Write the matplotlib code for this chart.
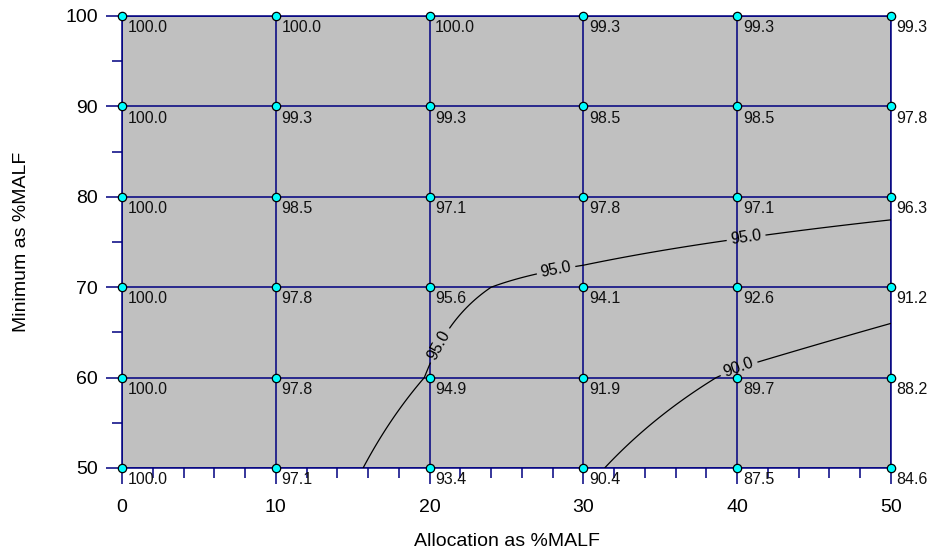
import numpy as np
import matplotlib
matplotlib.use("Agg")
import matplotlib.pyplot as plt
from matplotlib.ticker import MultipleLocator

plt.rcParams["font.family"] = ["Liberation Sans", "DejaVu Sans"]

# Grid of allocation (x) and minimum (y), both as %MALF
allocation = [0, 10, 20, 30, 40, 50]
minimum = [50, 60, 70, 80, 90, 100]

# Reliability (%) at each grid node; rows follow `minimum`, columns follow `allocation`
reliability = [
    [100.0, 97.1, 93.4, 90.4, 87.5, 84.6],   # min 50
    [100.0, 97.8, 94.9, 91.9, 89.7, 88.2],   # min 60
    [100.0, 97.8, 95.6, 94.1, 92.6, 91.2],   # min 70
    [100.0, 98.5, 97.1, 97.8, 97.1, 96.3],   # min 80
    [100.0, 99.3, 99.3, 98.5, 98.5, 97.8],   # min 90
    [100.0, 100.0, 100.0, 99.3, 99.3, 99.3], # min 100
]

contour_levels = [90.0, 95.0]

NAVY = "#000080"

fig = plt.figure(figsize=(9.34, 5.56), dpi=100)
ax = fig.add_axes([122 / 934, 1 - 468 / 556, (891 - 122) / 934, (468 - 16) / 556])
ax.set_facecolor("#c0c0c0")

X, Y = np.meshgrid(allocation, minimum)
Z = np.array(reliability)

# Bilinear resampling of the node grid so contours bend smoothly inside cells
xf = np.linspace(allocation[0], allocation[-1], 251)
yf = np.linspace(minimum[0], minimum[-1], 251)
Zx = np.array([np.interp(xf, allocation, row) for row in Z])          # along x
ZF = np.array([np.interp(yf, minimum, Zx[:, k]) for k in range(len(xf))]).T  # along y
XF, YF = np.meshgrid(xf, yf)

# grid lines
for xv in allocation:
    ax.axvline(xv, color=NAVY, lw=1.1, zorder=2)
for yv in minimum:
    ax.axhline(yv, color=NAVY, lw=1.1, zorder=2)

cs = ax.contour(XF, YF, ZF, levels=contour_levels, colors="black", linewidths=0.9, zorder=3)
ax.clabel(cs, fmt="%.1f", fontsize=11.5, inline=True, inline_spacing=4,
          manual=[(20.2, 64.0), (28.2, 72.1), (40.6, 75.2), (40.2, 60.5)])

# node markers and value labels
ax.plot(X.ravel(), Y.ravel(), "o", ms=6, mfc="cyan", mec="black", mew=0.9,
        zorder=5, clip_on=False)
for i, yv in enumerate(minimum):
    for j, xv in enumerate(allocation):
        ax.annotate(f"{reliability[i][j]:.1f}", (xv, yv), xytext=(4, -3),
                    textcoords="offset points", ha="left", va="top",
                    fontsize=11.5, color="#111111", zorder=6, annotation_clip=False)

ax.set_xlim(allocation[0], allocation[-1])
ax.set_ylim(minimum[0], minimum[-1])
ax.xaxis.set_major_locator(MultipleLocator(10))
ax.xaxis.set_minor_locator(MultipleLocator(2))
ax.yaxis.set_major_locator(MultipleLocator(10))
ax.yaxis.set_minor_locator(MultipleLocator(5))
ax.tick_params(which="major", length=11.5, width=1.1, color=NAVY, labelsize=14)
ax.tick_params(which="minor", length=7, width=1.1, color=NAVY)
ax.tick_params(axis="x", which="major", pad=11)
ax.tick_params(axis="y", which="major", pad=6)

for sp in ax.spines.values():
    sp.set_color(NAVY)
    sp.set_linewidth(1.1)
    sp.set_zorder(2)

ax.set_xlabel("Allocation as %MALF", fontsize=14, labelpad=12)
ax.set_ylabel("Minimum as %MALF", fontsize=14, labelpad=25)

fig.savefig("out.png", dpi=100)
